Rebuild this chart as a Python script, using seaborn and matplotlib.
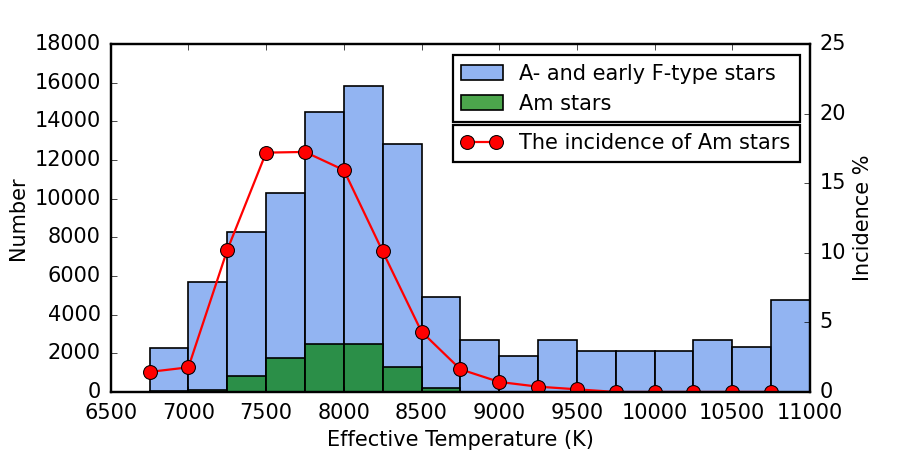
import numpy as np
import matplotlib
matplotlib.use("Agg")
import matplotlib.pyplot as plt
import seaborn as sns

# bin left edges (K), 250 K wide
teff_bins = [6750, 7000, 7250, 7500, 7750, 8000, 8250, 8500, 8750,
             9000, 9250, 9500, 9750, 10000, 10250, 10500, 10750]
n_all = [2250, 5700, 8300, 10300, 14500, 15850, 12850, 4900, 2700,
         1870, 2700, 2120, 2100, 2130, 2700, 2340, 4750]
n_am = [30, 90, 840, 1760, 2480, 2500, 1270, 180, 0,
        0, 0, 0, 0, 0, 0, 0, 0]
incidence = [1.44, 1.77, 10.2, 17.2, 17.25, 15.95, 10.1, 4.33, 1.63,
             0.72, 0.38, 0.19, 0, 0, 0, 0, 0]

plt.style.use("classic")
plt.rcParams["font.family"] = ["DejaVu Sans"]
plt.rcParams["font.size"] = 15
plt.rcParams["axes.linewidth"] = 1.6
plt.rcParams["xtick.major.pad"] = 8
plt.rcParams["ytick.major.pad"] = 7

edges = teff_bins + [teff_bins[-1] + 250]

fig, ax = plt.subplots(figsize=(9, 4.5), dpi=100)
fig.subplots_adjust(left=0.123, right=0.9, top=0.902, bottom=0.129)

sns.histplot(x=teff_bins, weights=n_all, bins=edges, ax=ax, color="cornflowerblue",
             alpha=0.7, edgecolor="black", linewidth=1.2, label="A- and early F-type stars")
sns.histplot(x=teff_bins, weights=n_am, bins=edges, ax=ax, color="green",
             alpha=0.7, edgecolor="black", linewidth=1.2, label="Am stars")

ax.set_xlim(6500, 11000)
ax.set_ylim(0, 18000)
ax.set_xticks(np.arange(6500, 11001, 500))
ax.set_yticks(np.arange(0, 18001, 2000))
ax.set_xlabel("Effective Temperature (K)", fontsize=15)
ax.set_ylabel("Number", fontsize=15)

ax2 = ax.twinx()
sns.lineplot(x=teff_bins, y=incidence, ax=ax2, color="red", marker="o", markersize=10,
             markeredgecolor="black", linewidth=1.6, legend=False,
             label="The incidence of Am stars")
ax2.set_ylim(0, 25)
ax2.set_yticks(np.arange(0, 26, 5))
ax2.set_ylabel("Incidence %", fontsize=15)
ax2.set_xlim(6500, 11000)

h1, l1 = ax.get_legend_handles_labels()
h2, l2 = ax2.get_legend_handles_labels()
leg1 = ax2.legend(h1, l1, loc="upper left", bbox_to_anchor=(0.489, 0.775, 0.497, 0.193),
                  mode="expand", borderaxespad=0, fontsize=15)
leg1.get_frame().set_linewidth(1.6)
ax2.add_artist(leg1)
leg2 = ax2.legend(h2, l2, loc="upper left", bbox_to_anchor=(0.489, 0.5, 0.497, 0.267),
                  mode="expand", borderaxespad=0, fontsize=15, numpoints=2)
leg2.get_frame().set_linewidth(1.6)

fig.savefig("out.png", dpi=100)
